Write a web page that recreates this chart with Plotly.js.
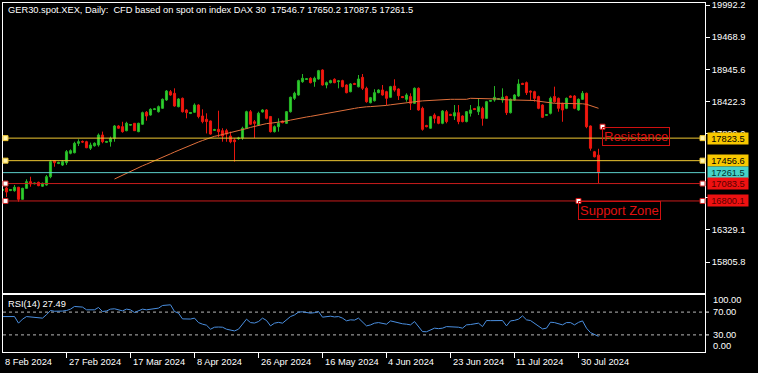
<!DOCTYPE html>
<html>
<head>
<meta charset="utf-8">
<script src="https://cdn.plot.ly/plotly-3.0.1.min.js"></script>
<style>html,body{margin:0;padding:0;background:#000;}#chart{width:758px;height:373px;}</style>
</head>
<body>
<div id="chart"></div>
<script>
// ---------------- DATA ----------------
const dateTickBars = [0, 16, 32, 48, 64, 80, 96, 112, 128, 144];
const dateTickLabels = ["8 Feb 2024","27 Feb 2024","17 Mar 2024","8 Apr 2024","26 Apr 2024","16 May 2024","4 Jun 2024","23 Jun 2024","11 Jul 2024","30 Jul 2024"];
const priceTicks = [19992.2, 19468.9, 18945.6, 18422.3, 17899.0, 16852.4, 16329.1, 15805.8];

const openP = [16970,17011,16970,16967,17023,16827,17006,17114,17080,17104,
17040,17060,17195,17456,17410,17385,17423,17577,17586,17739,
17770,17765,17659,17700,17712,17874,17755,17765,17820,18021,
18010,17945,18035,18065,17929,18050,18245,18200,18290,18254,
18310,18445,18580,18553,18336,18472,18282,18225,18245,18363,
18184,18130,18103,17950,17967,17945,17945,17858,17793,17815,
17825,17985,18254,18090,18037,18250,18282,18175,17929,18010,
18102,18065,18254,18472,18526,18743,18780,18798,18743,18787,
18933,18689,18727,18782,18745,18760,18689,18580,18712,18660,
18814,18635,18400,18433,18564,18607,18580,18489,18672,18624,
18500,18456,18500,18391,18635,18309,18030,17985,18200,18173,
18065,18254,18210,18184,18238,18184,18093,18228,18305,18254,
18309,18146,18425,18444,18455,18444,18500,18238,18444,18510,
18715,18727,18590,18580,18500,18363,18195,18228,18500,18472,
18391,18309,18510,18510,18282,18456,18554,18021,17601,17546.7];
const highP = [17030,17027,16995,17060,17030,17015,17153,17195,17100,17115,
17100,17223,17467,17467,17440,17467,17630,17640,17765,17805,
17785,17780,17750,17755,17900,17930,17780,17848,18037,18035,
18090,18090,18050,18070,18075,18255,18265,18310,18315,18355,
18470,18607,18607,18635,18475,18485,18295,18250,18390,18375,
18293,18228,18110,17975,18270,17985,17975,17930,17820,17845,
18010,18270,18282,18119,18254,18295,18295,18185,18030,18146,
18110,18265,18500,18580,18775,18868,18800,18815,18825,18935,
18945,18745,18775,18798,18770,18775,18700,18720,18725,18852,
18868,18662,18495,18620,18620,18689,18595,18675,18782,18635,
18510,18554,18554,18650,18650,18336,18040,18185,18228,18185,
18280,18282,18220,18363,18363,18195,18265,18363,18315,18472,
18336,18430,18445,18672,18475,18635,18515,18470,18540,18782,
18725,18745,18600,18595,18515,18375,18215,18500,18662,18485,
18400,18485,18520,18525,18470,18591,18565,18030,17615,17650.2];
const lowP = [16960,16865,16960,16951,16788,16820,17000,17032,17070,17040,
17030,17050,17170,17358,17400,17370,17386,17560,17575,17695,
17745,17660,17630,17685,17685,17740,17745,17685,17765,17975,
17912,17935,18030,17940,17920,18040,18108,18190,18280,18240,
18300,18430,18515,18336,18325,18240,18146,18215,18235,18146,
18065,17900,17880,17940,17840,17765,17765,17740,17440,17795,
17795,17975,18037,17825,18025,18240,18130,17915,17915,17929,
18065,18055,18240,18445,18515,18725,18770,18715,18660,18775,
18680,18635,18715,18717,18635,18650,18553,18570,18690,18650,
18607,18400,18390,18420,18555,18515,18363,18480,18580,18445,
18475,18417,18282,18380,18270,17945,18000,17975,18065,18050,
18050,18065,18185,18119,18050,18080,18080,18175,18280,18200,
18026,18135,18415,18417,18445,18400,18200,18225,18430,18495,
18690,18526,18445,18417,18295,18150,18185,18210,18400,18254,
18090,18295,18480,18295,18270,18445,17985,17620,17510,17087.5];
const closeP = [16990,16946,16985,17023,16827,17006,17114,17076,17090,17049,
17088,17195,17440,17423,17425,17440,17603,17619,17739,17765,
17760,17667,17712,17740,17874,17765,17768,17820,18021,17985,
17929,18065,18045,17945,18065,18238,18184,18293,18300,18336,
18456,18591,18526,18347,18461,18254,18240,18240,18363,18175,
18093,18093,17890,17962,17929,17858,17890,17765,17765,17825,
17985,18254,18050,18065,18228,18282,18146,17929,18010,18065,
18075,18254,18489,18554,18760,18798,18790,18727,18798,18922,
18689,18727,18760,18727,18755,18662,18564,18705,18700,18787,
18635,18417,18482,18564,18607,18526,18472,18662,18607,18515,
18485,18526,18391,18635,18282,17967,18010,18173,18146,18065,
18265,18093,18195,18238,18093,18093,18254,18282,18290,18336,
18146,18417,18435,18489,18465,18489,18238,18456,18526,18705,
18700,18564,18575,18472,18309,18163,18205,18472,18417,18309,
18282,18472,18489,18309,18456,18554,18010,17658,17520,17261.5];

const maValues = [null,null,null,null,null,null,null,null,null,null,
null,null,null,null,null,null,null,null,null,null,
null,null,null,null,null,null,null,null,17157.8,17190.4,
17223.0,17255.5,17288.1,17320.7,17346.8,17372.8,17398.9,17425.0,17451.0,17480.4,
17509.7,17539.0,17568.3,17597.6,17627.0,17656.3,17685.6,17714.9,17744.2,17760.5,
17785.0,17809.4,17833.8,17853.4,17866.4,17882.7,17894.1,17907.1,17920.2,17939.7,
17956.0,17978.8,17998.3,18016.3,18035.8,18053.7,18060.2,18066.7,18073.2,18079.8,
18086.3,18102.6,18117.2,18131.9,18143.3,18154.7,18167.7,18177.5,18190.5,18201.9,
18215.0,18226.4,18237.8,18249.2,18260.6,18273.6,18285.0,18296.4,18307.8,18319.2,
18330.6,18333.9,18337.2,18340.4,18343.7,18346.9,18356.7,18366.5,18376.3,18386.1,
18390.9,18399.1,18407.2,18415.4,18423.5,18430.0,18434.9,18438.2,18441.4,18452.8,
18456.1,18456.1,18456.1,18456.1,18456.1,18456.1,18456.1,18472.4,18472.4,18472.4,
18472.4,18469.1,18461.0,18461.0,18461.0,18452.8,18444.7,18444.7,18444.7,18444.7,
18444.7,18444.7,18444.7,18436.5,18425.1,18417.0,18404.0,18390.9,18390.9,18390.9,
18390.9,18390.9,18390.9,18390.9,18390.9,18382.7,18374.6,18350.2,18330.6,18309.4];

const rsiValues = [62.2,62.0,62.5,62.2,50.6,57.6,62.2,61.5,61.8,61.1,
59.4,65.5,72.8,71.5,71.0,71.8,72.8,75.2,79.9,79.5,
78.8,74.0,74.5,74.0,78.1,71.0,72.0,75.2,75.8,74.5,
72.2,75.2,74.0,69.3,72.8,75.2,74.0,75.2,75.6,77.0,
81.6,82.8,82.8,71.0,68.2,58.1,57.6,57.8,59.4,51.6,
48.8,47.0,40.0,43.5,43.8,43.5,40.0,38.5,37.0,40.0,
48.0,57.6,51.6,50.8,53.4,59.4,55.3,45.8,50.6,52.0,
50.6,56.5,62.2,65.0,70.0,70.5,69.3,68.2,69.0,71.0,
61.1,62.2,62.8,61.5,62.2,59.4,54.7,56.4,56.0,59.4,
53.4,45.8,47.5,50.6,51.6,50.0,48.8,54.6,53.0,50.6,
49.5,48.8,47.6,53.4,43.5,35.8,35.5,38.5,41.8,41.0,
41.8,44.6,44.0,44.6,43.5,41.8,47.6,48.2,48.8,50.6,
44.6,55.2,55.0,55.2,55.4,55.2,45.8,54.6,55.5,57.6,
63.4,56.4,55.2,50.6,45.5,40.5,41.8,52.3,51.6,49.0,
47.6,51.6,51.6,47.6,52.0,54.6,41.8,34.0,31.0,27.49];

const levelValues = [17823.5, 17456.6, 17261.5, 17083.5, 16800.1];
const rsiLevels = [70, 30];
const rsiScaleLabels = [100, 70, 30, 0];
const resistanceAnchor = {bar: 150, price: 18010};
const supportAnchor = {bar: 144, price: 16800.1};
const lastBar = {o: 17546.7, h: 17650.2, l: 17087.5, c: 17261.5};
const rsiLast = 27.49;

// ---------------- LAYOUT ----------------
const W = 758, H = 373;
const PL = 3, PR = 705, MT = 3, MB = 293, RT = 295, RB = 352;
const xd = [PL / W, PR / W];
const yd = [1 - MB / H, 1 - MT / H];
const yd2 = [1 - RB / H, 1 - RT / H];
const pxPerPt = (262 - 5) / (19992.2 - 15805.8);
const yTop = 19992.2 + (5 - MT) / pxPerPt;
const yBot = 19992.2 - (MB - 5) / pxPerPt;
const xRange = [0.125, 0.125 + (PR - PL) / 4];
const barToPaper = b => xd[0] + (b - xRange[0]) / (xRange[1] - xRange[0]) * (xd[1] - xd[0]);
const FONT = 'Liberation Sans, Arial, sans-serif';
const FS = 9.3;

const idx = closeP.map((_, i) => i);

const levelStyle = [
  {line: '#f0c832', bg: '#f8c800', txt: '#000000', handle: true, hfill: '#fff4b0'},
  {line: '#f0c832', bg: '#f8c800', txt: '#000000', handle: true, hfill: '#fff4b0'},
  {line: '#5ccfca', bg: '#46d2c8', txt: '#00302e', handle: false},
  {line: '#c81c1c', bg: '#ee1111', txt: '#5a0000', handle: true, hfill: '#ffffff'},
  {line: '#c81c1c', bg: '#ee1111', txt: '#5a0000', handle: true, hfill: '#ffffff'}
];

const traces = [
  {
    type: 'candlestick', x: idx, open: openP, high: highP, low: lowP, close: closeP,
    xaxis: 'x', yaxis: 'y', whiskerwidth: 0, hoverinfo: 'skip',
    increasing: {line: {color: '#26b526', width: 1}, fillcolor: '#30d030'},
    decreasing: {line: {color: '#e8160e', width: 1}, fillcolor: '#f0180f'}
  },
  {
    type: 'scatter', mode: 'lines', x: idx, y: maValues, xaxis: 'x', yaxis: 'y',
    line: {color: '#e0703c', width: 1}, hoverinfo: 'skip', connectgaps: false
  },
  {
    type: 'scatter', mode: 'lines', x: idx, y: rsiValues, xaxis: 'x2', yaxis: 'y2',
    line: {color: '#4a8fe0', width: 1}, hoverinfo: 'skip'
  }
];

const shapes = [];
const annotations = [];

levelValues.forEach((v, k) => {
  const st = levelStyle[k];
  shapes.push({type: 'line', xref: 'paper', yref: 'y', x0: xd[0], x1: xd[1], y0: v, y1: v,
    line: {color: st.line, width: 1}, layer: 'above'});
  if (st.handle) {
    [[xd[0], 0, 5], [xd[1], -5, 0]].forEach(h => {
      shapes.push({type: 'rect', xref: 'paper', yref: 'y', xsizemode: 'pixel', ysizemode: 'pixel',
        xanchor: h[0], yanchor: v, x0: h[1], x1: h[2], y0: -2.5, y1: 2.5,
        fillcolor: st.hfill, line: {color: st.line, width: 1}, layer: 'above'});
    });
  }
  annotations.push({xref: 'paper', yref: 'y', x: (PR + 2) / W, y: v, xanchor: 'left', yanchor: 'middle',
    text: v.toFixed(1), showarrow: false, bgcolor: st.bg, width: 40, height: 11, borderpad: 0,
    font: {family: FONT, size: FS, color: st.txt}, align: 'center'});
});

// text objects
[[resistanceAnchor, 'Resistance'], [supportAnchor, 'Support Zone']].forEach(([a, t]) => {
  annotations.push({xref: 'x', yref: 'y', x: a.bar, y: a.price, xanchor: 'left', yanchor: 'top',
    xshift: -1, text: t, showarrow: false, font: {family: FONT, size: 13, color: '#e01010'},
    bordercolor: '#d01010', borderwidth: 1, borderpad: 1});
  shapes.push({type: 'rect', xref: 'x', yref: 'y', xsizemode: 'pixel', ysizemode: 'pixel',
    xanchor: a.bar, yanchor: a.price, x0: -2.5, x1: 2.5, y0: -2.5, y1: 2.5,
    fillcolor: '#ffffff', line: {color: '#d01010', width: 1}, layer: 'above'});
});

// RSI dashed levels
rsiLevels.forEach(v => {
  shapes.push({type: 'line', xref: 'paper', yref: 'y2', x0: xd[0], x1: xd[1], y0: v, y1: v,
    line: {color: '#b8b8b8', width: 1, dash: '3px,3px'}, layer: 'below'});
});

// RSI scale labels (100 and 0 drawn inside the panel like the terminal does)
rsiScaleLabels.forEach(v => {
  const shift = v === 100 ? -5 : (v === 0 ? 6 : 0);
  annotations.push({xref: 'paper', yref: 'y2', x: (PR + 6) / W, y: v, yshift: shift,
    xanchor: 'left', yanchor: 'middle', text: v.toFixed(2), showarrow: false,
    font: {family: FONT, size: FS, color: '#ffffff'}});
  shapes.push({type: 'line', xref: 'paper', yref: 'y2', xsizemode: 'pixel', ysizemode: 'pixel',
    xanchor: xd[1], yanchor: v, x0: 0, x1: 4, y0: -shift, y1: -shift,
    line: {color: '#ffffff', width: 1}});
});

// Date labels (left-aligned at their tick, like the terminal)
dateTickBars.forEach((b, k) => {
  annotations.push({xref: 'paper', yref: 'paper', x: barToPaper(b), y: 1 - 361.5 / H,
    xanchor: 'left', yanchor: 'middle', text: dateTickLabels[k], showarrow: false,
    font: {family: FONT, size: FS, color: '#ffffff'}});
});

// header and indicator label
annotations.push({xref: 'paper', yref: 'paper', x: 6 / W, y: 1 - 9.5 / H, xanchor: 'left', yanchor: 'middle',
  showarrow: false, font: {family: FONT, size: FS, color: '#ffffff'},
  text: 'GER30.spot.XEX, Daily:  CFD based on spot on index DAX 30  ' +
    [lastBar.o, lastBar.h, lastBar.l, lastBar.c].map(v => v.toFixed(1)).join(' ')});
annotations.push({xref: 'paper', yref: 'paper', x: 6 / W, y: 1 - 303.5 / H, xanchor: 'left', yanchor: 'middle',
  showarrow: false, font: {family: FONT, size: FS, color: '#ffffff'},
  text: 'RSI(14) ' + rsiLast.toFixed(2)});

const axisCommon = {showgrid: false, zeroline: false, showline: true, mirror: true,
  linecolor: '#ffffff', linewidth: 1, fixedrange: true};

const layout = {
  width: W, height: H, margin: {l: 0, r: 0, t: 0, b: 0, pad: 0},
  paper_bgcolor: '#000000', plot_bgcolor: '#000000',
  showlegend: false, hovermode: false, boxgap: 0.25,
  font: {family: FONT, size: FS, color: '#ffffff'},
  xaxis: Object.assign({}, axisCommon, {domain: xd, range: xRange, anchor: 'y',
    showticklabels: false, ticks: '', rangeslider: {visible: false}}),
  yaxis: Object.assign({}, axisCommon, {domain: yd, range: [yBot, yTop], anchor: 'x', side: 'right',
    tickmode: 'array', tickvals: priceTicks, ticktext: priceTicks.map(v => v.toFixed(1)),
    ticklabeloverflow: 'allow', automargin: false,
    ticks: 'outside', ticklen: 4, tickcolor: '#ffffff', tickfont: {family: FONT, size: FS, color: '#ffffff'}}),
  xaxis2: Object.assign({}, axisCommon, {domain: xd, range: xRange, anchor: 'y2',
    tickmode: 'array', tickvals: dateTickBars, showticklabels: false,
    ticks: 'outside', ticklen: 5, tickcolor: '#ffffff'}),
  yaxis2: Object.assign({}, axisCommon, {domain: yd2, range: [0, 100], anchor: 'x2', side: 'right',
    showticklabels: false, ticks: ''}),
  shapes: shapes,
  annotations: annotations
};

Plotly.newPlot('chart', traces, layout, {staticPlot: true, displayModeBar: false});
</script>
</body>
</html>
